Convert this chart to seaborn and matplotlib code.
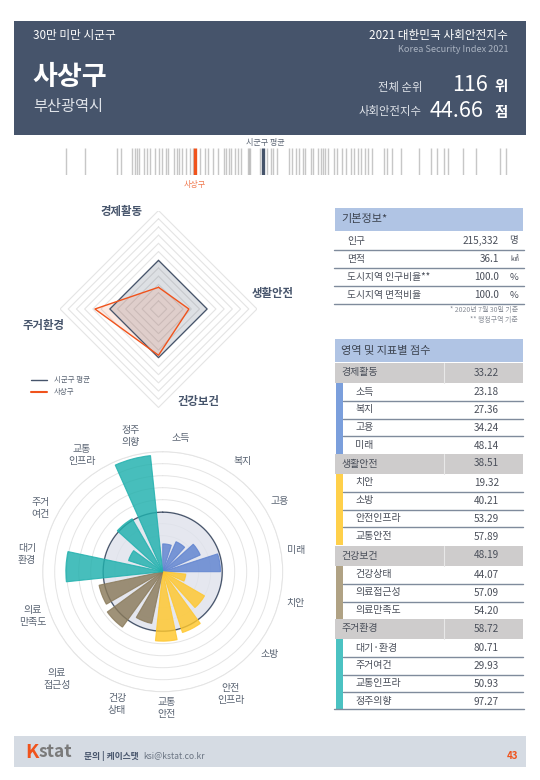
import numpy as np
import pandas as pd
import seaborn as sns
import matplotlib
matplotlib.use("Agg")
import matplotlib.pyplot as plt
from matplotlib.patches import Rectangle

W, H = 540, 780

# data
areas = ['경제활동', '생활안전', '건강보건', '주거환경']
area_scores = [33.22, 38.51, 48.19, 58.72]
avg_score = 49.6

indicators = [
    ['소득', '복지', '고용', '미래'],
    ['치안', '소방', '안전인프라', '교통안전'],
    ['건강상태', '의료접근성', '의료만족도'],
    ['대기·환경', '주거여건', '교통인프라', '정주의향'],
]
indicator_scores = [
    [23.18, 27.36, 34.24, 48.14],
    [19.32, 40.21, 53.29, 57.89],
    [44.07, 57.09, 54.20],
    [80.71, 29.93, 50.93, 97.27],
]
polar_labels = ['소득', '복지', '고용', '미래', '치안', '소방', '안전\n인프라', '교통\n안전',
                '건강\n상태', '의료\n접근성', '의료\n만족도', '대기\n환경', '주거\n여건',
                '교통\n인프라', '정주\n의향']
area_colors = ['#5f83d0', '#ffc72c', '#8a7a5a', '#1fb0ad']
side_colors = ['#7b9fdc', '#ffd04a', '#b0a284', '#4bc2c2']

info_names = ['인구', '면적', '도시지역 인구비율**', '도시지역 면적비율']
info_values = ['215,332', '36.1', '100.0', '100.0']
info_units = ['명', '㎢', '%', '%']

city_scores = [35.26, 36.67, 38.97, 39.30, 40.10, 40.27, 40.47, 40.60, 40.98, 41.18, 41.38,
               41.73, 42.03, 42.28, 42.55, 42.73, 43.16, 43.36, 43.53, 43.73, 43.98, 44.28,
               44.48, 45.06, 45.39, 45.64, 45.99, 46.31, 46.74, 46.92, 47.12, 47.29, 47.57,
               47.82, 47.99, 48.55, 48.62, 48.70, 49.37, 49.87, 50.20, 50.37, 50.62, 51.50,
               51.75, 52.00, 52.20, 52.50, 52.68, 53.08, 53.26, 53.63, 53.81, 53.96, 54.13,
               54.38, 54.76, 55.01, 55.39, 55.64, 56.01, 56.26, 56.56, 56.76, 57.01, 57.27,
               57.52, 58.39, 58.64, 59.02, 59.65, 60.97, 61.85, 62.28, 62.83, 63.10, 64.16,
               65.16, 66.84, 67.29]
my_score = 44.66

NAVY = '#46546b'
ORANGE = '#f0531c'
TXT = '#4a4f5a'
GRID = '#e4e4e4'

sns.set_theme(style='white')
plt.rcParams['font.family'] = ['Noto Sans CJK KR', 'DejaVu Sans']

fig = plt.figure(figsize=(W / 100, H / 100), dpi=100, facecolor='white')


def axes_px(x0, y0, x1, y1, **kw):
    return fig.add_axes([x0 / W, 1 - y1 / H, (x1 - x0) / W, (y1 - y0) / H], **kw)


# page layer in pixel coordinates
bg = axes_px(0, 0, W, H)
bg.set_xlim(0, W)
bg.set_ylim(H, 0)
bg.axis('off')


def box(x0, y0, x1, y1, color):
    bg.add_patch(Rectangle((x0, y0), x1 - x0, y1 - y0, fc=color, ec='none', zorder=1))


def txt(x, y, s, size, color=TXT, ha='left', **kw):
    bg.text(x, y, s, fontsize=size, color=color, ha=ha, va='center', zorder=5, **kw)


# header
box(14, 21, 526, 135, NAVY)
txt(33, 36, '30만 미만 시군구', 8.4, 'white')
txt(32, 77, '사상구', 19.5, 'white', fontweight='bold')
txt(33, 107, '부산광역시', 11, '#dfe3e9')
txt(508, 36, '2021 대한민국 사회안전지수', 8.4, 'white', ha='right')
txt(508, 49, 'Korea Security Index 2021', 6.6, '#aab3c1', ha='right')
txt(422, 87, '전체 순위', 8.2, '#dfe3e9', ha='right')
txt(488, 85, '116', 15.5, 'white', ha='right')
txt(508, 86, '위', 10.5, 'white', ha='right', fontweight='bold')
txt(422, 112, '사회안전지수', 8.2, '#dfe3e9', ha='right')
txt(484, 111, '44.66', 15.5, 'white', ha='right')
txt(508, 112, '점', 10.5, 'white', ha='right', fontweight='bold')

# strip of all districts
strip = axes_px(60, 148, 510, 175)
strip.patch.set_alpha(0)
sns.rugplot(x=city_scores, ax=strip, height=1, color='#a9a9a9', alpha=0.65, linewidth=1.0)
sns.rugplot(x=[my_score], ax=strip, height=1, color=ORANGE, linewidth=2.4)
sns.rugplot(x=[avg_score], ax=strip, height=1, color=NAVY, linewidth=2.4)
strip.set_xlim(34.83, 67.6)
strip.set_ylim(0, 1)
strip.axis('off')
txt(265, 143, '시군구 평균', 5.8, '#5a6473', ha='center')
txt(195, 185, '사상구', 5.8, '#f0794f', ha='center')

# radar, axis runs 20 to 80
radar = axes_px(158.5 - 98.5, 309 - 98.5, 158.5 + 98.5, 309 + 98.5)
radar.patch.set_alpha(0)
radar.set_xlim(-60, 60)
radar.set_ylim(-60, 60)
radar.axis('off')


def diamond(vals):
    # clockwise from the top, first point repeated to close
    r = np.array(list(vals) + [vals[0]]) - 20
    ang = np.arange(len(r)) * np.pi / 2
    return r * np.sin(ang), r * np.cos(ang)


for level in np.arange(25, 85, 5):
    x, y = diamond([level] * 4)
    radar.plot(x, y, color=GRID, lw=0.8, zorder=1)
x, y = diamond([avg_score] * 4)
radar.fill(x, y, color=NAVY, alpha=0.18, lw=0, zorder=2)
radar.plot(x, y, color=NAVY, lw=0.9, zorder=4)
x, y = diamond(area_scores)
radar.fill(x, y, color=ORANGE, alpha=0.12, lw=0, zorder=3)
radar.plot(x, y, color=ORANGE, lw=1.0, zorder=5)

txt(121.5, 211, '경제활동', 8.2, NAVY, ha='center', fontweight='bold')
txt(272.5, 294, '생활안전', 8.2, NAVY, ha='center', fontweight='bold')
txt(198, 402, '건강보건', 8.2, NAVY, ha='center', fontweight='bold')
txt(44, 326, '주거환경', 8.2, NAVY, ha='center', fontweight='bold')

bg.plot([31, 47], [380, 380], color=NAVY, lw=1, zorder=5)
bg.plot([31, 47], [392, 392], color=ORANGE, lw=1.5, zorder=5)
txt(54, 380, '시군구 평균', 5.4, '#5a6473')
txt(54, 392, '사상구', 5.4, '#5a6473')

# polar bars
polar = axes_px(162.7 - 120, 571.7 - 120, 162.7 + 120, 571.7 + 120, projection='polar')
polar.patch.set_alpha(0)
polar.set_theta_zero_location('N')
polar.set_theta_direction(-1)
polar.set_ylim(0, 100)
polar.set_xticks([])
polar.set_rticks(np.arange(10, 101, 10))
polar.set_yticklabels([])
polar.yaxis.grid(True, color=GRID, lw=0.7)
polar.xaxis.grid(False)
polar.spines['polar'].set_color(GRID)
polar.spines['polar'].set_linewidth(0.7)
polar.set_axisbelow(True)

circle = np.linspace(0, 2 * np.pi, 200)
polar.fill_between(circle, 0, avg_score, color='#dfe2ec', alpha=0.8, lw=0, zorder=1.5)
polar.plot(circle, np.full_like(circle, avg_score), color=NAVY, lw=0.9, zorder=2)

step = 2 * np.pi / 15
bar_w = np.deg2rad(18)
df = pd.DataFrame({
    'score': sum(indicator_scores, []),
    'area': sum([[i] * len(s) for i, s in enumerate(indicator_scores)], []),
    'label': polar_labels,
})
df['theta'] = df.index * step
for _, row in df.iterrows():
    col = area_colors[int(row['area'])]
    polar.bar(row['theta'], row['score'], width=bar_w, align='edge', color=col, alpha=0.82,
              edgecolor=col, lw=0.8, zorder=3)

# label spots on the page, same order as polar_labels
label_x = [181, 243, 280, 296, 295, 270, 231, 167, 117, 57, 33, 27, 41, 82, 131]
label_y = [438, 461, 501, 550, 603, 654, 694, 708, 704, 679, 616, 554, 508, 455, 436]
for lx, ly, lab in zip(label_x, label_y, polar_labels):
    txt(lx, ly, lab, 7.2, '#5a6473', ha='center', linespacing=1.25)

# basic info table
box(335, 208, 523, 231, '#b0c4e4')
txt(341, 219, '기본정보*', 8, '#3c4350')
for i, (n, v, u) in enumerate(zip(info_names, info_values, info_units)):
    yc = 241 + i * 18
    txt(347, yc, n, 7.0)
    txt(499, yc, v, 7.2, ha='right')
    txt(518, yc, u, 6.8 if u != '㎢' else 5.5, ha='right')
    bg.plot([334, 524], [yc + 9, yc + 9], color='#7f8b9c', lw=1, zorder=3)
txt(518, 310, '* 2020년 7월 30일 기준', 5, '#8a8f98', ha='right')
txt(518, 320, '** 행정구역 기준', 5, '#8a8f98', ha='right')

# score table
box(335, 339, 523, 362, '#b0c4e4')
txt(341, 351, '영역 및 지표별 점수', 8, '#3c4350')
gray_tops = [363, 454, 546, 619]
for a, top in enumerate(gray_tops):
    box(335, top, 523, top + 19.5, '#cecccc')
    bg.plot([444, 444], [top, top + 19.5], color='#e8e8e8', lw=0.8, zorder=2)
    txt(341, top + 9.5, areas[a], 7.2)
    txt(499, top + 9.5, f'{area_scores[a]:.2f}', 7.2, ha='right')
    r0 = top + 20
    n = len(indicators[a])
    box(336, r0, 343.3, r0 + n * 17.8 - 0.5, side_colors[a])
    for j in range(n):
        yc = r0 + j * 17.8 + 8.5
        txt(355, yc, indicators[a][j], 7.2)
        txt(499, yc + 0.8, f'{indicator_scores[a][j]:.2f}', 7.2, ha='right')
        if j < n - 1:
            bg.plot([343.3, 523], [r0 + (j + 1) * 17.8] * 2, color='#7f8b9c', lw=1, zorder=3)
bg.plot([334, 524], [709, 709], color='#7f8b9c', lw=1, zorder=3)

# footer
box(14, 736, 526, 767, '#d5dbe3')
txt(25, 752, 'K', 14, ORANGE, fontweight='bold')
txt(39, 752, 'stat', 12.5, '#7a7a7a', fontweight='bold')
txt(84, 756, '문의 | 케이스탯', 6.3, NAVY, fontweight='bold')
txt(143, 756, 'ksi@kstat.co.kr', 6.2, '#6a7482')
txt(518, 756, '43', 7, ORANGE, ha='right', fontweight='bold')

fig.savefig('out.png', dpi=100, facecolor='white')
